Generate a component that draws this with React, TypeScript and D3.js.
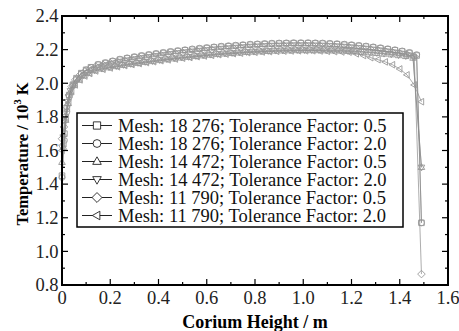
import React from "react";
import * as d3 from "d3";

const xA = [0,0.01,0.02,0.03,0.045,0.06,0.08,0.1,0.12,0.15,0.18,0.21,0.24,0.27,0.3,0.33,0.36,0.39,0.42,0.45,0.48,0.51,0.54,0.57,0.6,0.63,0.66,0.69,0.72,0.75,0.78,0.81,0.84,0.87,0.9,0.93,0.96,0.99,1.02,1.05,1.08,1.11,1.14,1.17,1.2,1.23,1.26,1.29,1.32,1.35,1.38,1.41,1.44,1.47,1.49];
const xB = [0,0.005,0.015,0.025,0.035,0.05,0.07,0.09,0.11,0.135,0.165,0.195,0.225,0.255,0.285,0.315,0.345,0.375,0.405,0.435,0.465,0.495,0.525,0.555,0.585,0.615,0.645,0.675,0.705,0.735,0.765,0.795,0.825,0.855,0.885,0.915,0.945,0.975,1.005,1.035,1.065,1.095,1.125,1.155,1.185,1.215,1.245,1.275,1.305,1.335,1.365,1.395,1.425,1.455,1.49];
const xC = [0,0.008,0.018,0.028,0.04,0.055,0.075,0.095,0.115,0.14,0.17,0.2,0.23,0.26,0.29,0.32,0.35,0.38,0.41,0.44,0.47,0.5,0.53,0.56,0.59,0.62,0.65,0.68,0.71,0.74,0.77,0.8,0.83,0.86,0.89,0.92,0.95,0.98,1.01,1.04,1.07,1.1,1.13,1.16,1.19,1.22,1.25,1.28,1.31,1.34,1.37,1.4,1.43,1.46,1.49];

const m18276t05 = [1.45,1.70,1.85,1.93,1.99,2.03,2.06,2.08,2.095,2.11,2.12,2.13,2.14,2.148,2.155,2.162,2.168,2.174,2.18,2.186,2.191,2.196,2.2,2.205,2.209,2.213,2.217,2.22,2.223,2.226,2.229,2.231,2.233,2.235,2.236,2.237,2.238,2.238,2.238,2.237,2.236,2.234,2.232,2.229,2.226,2.222,2.218,2.213,2.208,2.202,2.196,2.189,2.18,2.165,1.17];
const m18276t20 = [1.44,1.66,1.83,1.92,1.985,2.025,2.058,2.079,2.094,2.112,2.123,2.133,2.143,2.151,2.158,2.165,2.171,2.177,2.183,2.189,2.194,2.199,2.204,2.208,2.212,2.216,2.22,2.223,2.226,2.229,2.232,2.234,2.236,2.238,2.239,2.24,2.241,2.241,2.241,2.24,2.239,2.237,2.235,2.232,2.229,2.225,2.221,2.216,2.211,2.205,2.199,2.192,2.183,2.17,1.17];
const m14472t05 = [1.53,1.62,1.78,1.88,1.95,1.99,2.02,2.045,2.06,2.075,2.085,2.093,2.1,2.107,2.113,2.119,2.125,2.13,2.136,2.141,2.146,2.151,2.155,2.16,2.164,2.168,2.172,2.175,2.178,2.181,2.184,2.186,2.188,2.19,2.192,2.193,2.194,2.195,2.195,2.195,2.195,2.194,2.193,2.192,2.19,2.188,2.185,2.182,2.178,2.174,2.17,2.165,2.16,2.15,1.5];
const m14472t20 = [1.62,1.68,1.8,1.89,1.955,1.995,2.025,2.048,2.063,2.078,2.088,2.096,2.103,2.11,2.116,2.122,2.128,2.133,2.139,2.144,2.149,2.154,2.158,2.163,2.167,2.171,2.175,2.178,2.181,2.184,2.187,2.189,2.191,2.193,2.195,2.196,2.197,2.198,2.198,2.198,2.198,2.197,2.196,2.195,2.193,2.191,2.188,2.185,2.181,2.177,2.173,2.168,2.163,2.155,1.5];
const m11790t05 = [1.67,1.74,1.86,1.93,1.98,2.02,2.05,2.07,2.085,2.1,2.11,2.12,2.128,2.136,2.143,2.15,2.156,2.162,2.168,2.173,2.178,2.183,2.187,2.192,2.196,2.2,2.203,2.206,2.209,2.212,2.215,2.217,2.219,2.221,2.222,2.223,2.224,2.224,2.224,2.223,2.222,2.22,2.218,2.215,2.212,2.208,2.204,2.2,2.195,2.19,2.184,2.178,2.17,2.16,0.865];
const m11790t20 = [1.6,1.64,1.79,1.885,1.95,1.99,2.02,2.043,2.058,2.073,2.083,2.091,2.098,2.105,2.111,2.117,2.123,2.128,2.134,2.139,2.144,2.149,2.153,2.158,2.162,2.166,2.17,2.173,2.176,2.179,2.182,2.184,2.186,2.188,2.19,2.191,2.192,2.193,2.193,2.193,2.192,2.19,2.188,2.186,2.185,2.175,2.165,2.152,2.14,2.127,2.11,2.085,2.05,1.99,1.89];

const seriesLabels = [
  "Mesh: 18 276; Tolerance Factor: 0.5",
  "Mesh: 18 276; Tolerance Factor: 2.0",
  "Mesh: 14 472; Tolerance Factor: 0.5",
  "Mesh: 14 472; Tolerance Factor: 2.0",
  "Mesh: 11 790; Tolerance Factor: 0.5",
  "Mesh: 11 790; Tolerance Factor: 2.0",
];
const seriesX = [xA, xA, xB, xB, xC, xC];
const seriesY = [m18276t05, m18276t20, m14472t05, m14472t20, m11790t05, m11790t20];
const seriesShape = ["square", "circle", "triUp", "triDown", "diamond", "triLeft"];

const xTicks = [0, 0.2, 0.4, 0.6, 0.8, 1.0, 1.2, 1.4, 1.6];
const xTickLabels = ["0", "0.2", "0.4", "0.6", "0.8", "1.0", "1.2", "1.4", "1.6"];
const yTicks = [0.8, 1.0, 1.2, 1.4, 1.6, 1.8, 2.0, 2.2, 2.4];
const yTickLabels = ["0.8", "1.0", "1.2", "1.4", "1.6", "1.8", "2.0", "2.2", "2.4"];

const W = 459, H = 331;
const L = 62, R = 448, T = 16, B = 285;
const FONT = "'Liberation Serif', 'Times New Roman', serif";

function Marker({ shape, x, y, stroke, fill, k = 1 }: { shape: string; x: number; y: number; stroke: string; fill: string; k?: number }) {
  const sw = 0.9;
  if (shape === "circle") return <circle cx={x} cy={y} r={3 * k} fill={fill} stroke={stroke} strokeWidth={sw} />;
  let d = "";
  if (shape === "square") d = "M-2.8,-2.8h5.6v5.6h-5.6Z";
  if (shape === "triUp") d = "M0,-3.6L3.3,2.2L-3.3,2.2Z";
  if (shape === "triDown") d = "M0,3.6L3.3,-2.2L-3.3,-2.2Z";
  if (shape === "diamond") d = "M0,-3.8L3.8,0L0,3.8L-3.8,0Z";
  if (shape === "triLeft") d = "M-3.6,0L2.2,-3.3L2.2,3.3Z";
  return <path d={d} transform={`translate(${x},${y}) scale(${k})`} fill={fill} stroke={stroke} strokeWidth={sw / k} />;
}

export default function App() {
  const x = d3.scaleLinear().domain([0, 1.6]).range([L, R]);
  const y = d3.scaleLinear().domain([0.8, 2.4]).range([B, T]);
  const xMinor = d3.range(0, 1.6001, 0.1);
  const yMinor = d3.range(0.8, 2.4001, 0.1);
  const line = d3.line<number>();
  const gray = "#999999";

  const legX = 77, legY = 113, legW = 326, legH = 114;
  const rowY = (i: number) => 125.5 + i * 18;

  return (
    <svg width={W} height={H} style={{ position: "absolute", left: 0, top: 0, background: "#fff" }} fontFamily={FONT}>
      <rect x={0} y={0} width={W} height={H} fill="#fff" />
      {seriesY.map((ys, si) => {
        const pts = ys.map((v, i) => [x(seriesX[si][i]), y(v)] as [number, number]);
        return (
          <g key={si}>
            <path d={line(pts) || ""} fill="none" stroke="#8a8a8a" strokeWidth={0.7} />
            {pts.map((p, i) => (
              <Marker key={i} shape={seriesShape[si]} x={p[0]} y={p[1]} stroke={gray} fill="none" />
            ))}
          </g>
        );
      })}
      {xMinor.map((v, i) => {
        const len = i % 2 === 0 ? 6 : 3;
        return (
          <g key={"xt" + i}>
            <line x1={x(v)} x2={x(v)} y1={B} y2={B - len} stroke="#000" strokeWidth={1.2} />
            <line x1={x(v)} x2={x(v)} y1={T} y2={T + len} stroke="#000" strokeWidth={1.2} />
          </g>
        );
      })}
      {yMinor.map((v, i) => {
        const len = i % 2 === 0 ? 6 : 3;
        return (
          <g key={"yt" + i}>
            <line x1={L} x2={L + len} y1={y(v)} y2={y(v)} stroke="#000" strokeWidth={1.2} />
            <line x1={R} x2={R - len} y1={y(v)} y2={y(v)} stroke="#000" strokeWidth={1.2} />
          </g>
        );
      })}
      <rect x={L} y={T} width={R - L} height={B - T} fill="none" stroke="#000" strokeWidth={2} />
      {xTicks.map((v, i) => (
        <text key={"xl" + i} x={x(v)} y={304} textAnchor="middle" fontSize={18.5} fill="#222">{xTickLabels[i]}</text>
      ))}
      {yTicks.map((v, i) => (
        <text key={"yl" + i} x={58.5} y={y(v) + 6.3} textAnchor="end" fontSize={18.5} fill="#222">{yTickLabels[i]}</text>
      ))}
      <text x={(L + R) / 2} y={328} textAnchor="middle" fontSize={18} fontWeight="bold" fill="#000">Corium Height / m</text>
      <text transform={`translate(28,154) rotate(-90)`} textAnchor="middle" fontSize={16.5} fontWeight="bold" fill="#000">
        Temperature / 10<tspan fontSize={10.5} dy={-7}>3</tspan><tspan dy={7}> K</tspan>
      </text>
      <rect x={legX} y={legY} width={legW} height={legH} fill="#fff" stroke="#000" strokeWidth={1.5} />
      {seriesLabels.map((lab, i) => (
        <g key={"lg" + i}>
          <line x1={82} x2={112} y1={rowY(i)} y2={rowY(i)} stroke="#222" strokeWidth={1} />
          <Marker shape={seriesShape[i]} x={97} y={rowY(i)} stroke="#222" fill="#fff" k={1.3} />
          <text x={118} y={rowY(i) + 6.2} fontSize={18.5} fill="#111">{lab}</text>
        </g>
      ))}
    </svg>
  );
}
